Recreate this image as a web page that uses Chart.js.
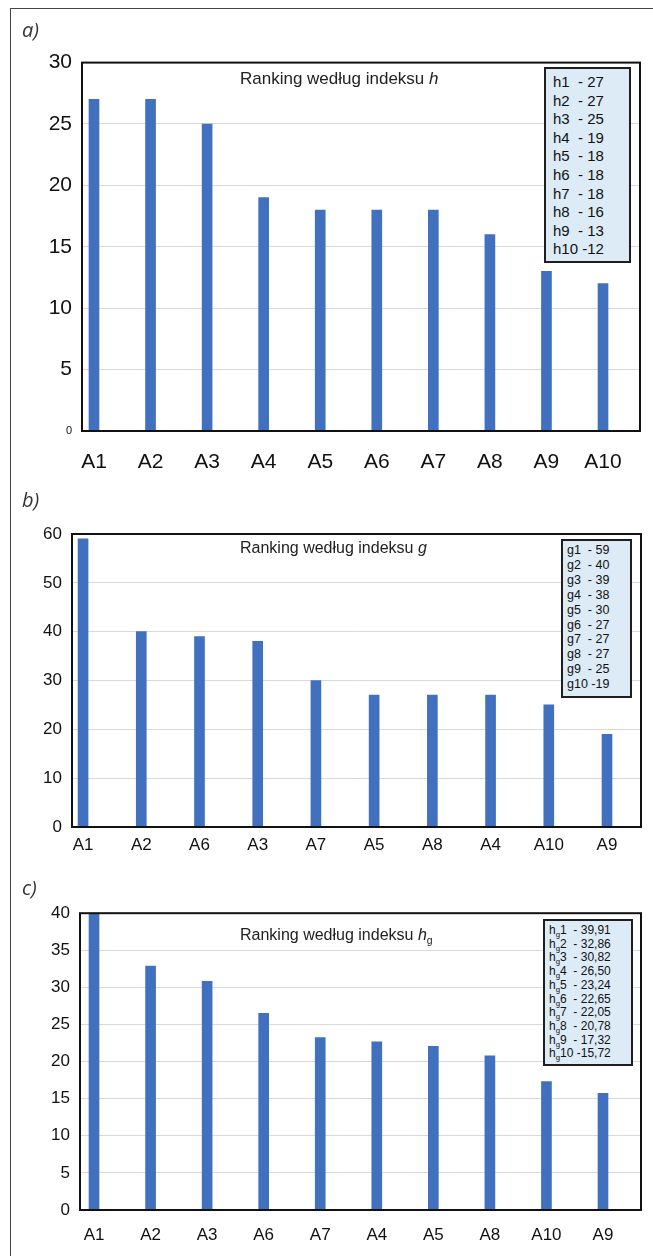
<!DOCTYPE html>
<html>
<head>
<meta charset="utf-8">
<script src="https://cdn.jsdelivr.net/npm/chart.js@4.4.0/dist/chart.umd.min.js"></script>
<style>
  body { margin: 0; background: #fff; width: 653px; height: 1256px; position: relative; overflow: hidden;
         font-family: "Liberation Sans", Arial, sans-serif; }
  .frame { position: absolute; left: 10px; top: 8px; right: -2px; bottom: -2px;
           border-left: 1px solid #444; border-top: 1px solid #444; }
  canvas { position: absolute; left: 0; }
  .tag { position: absolute; left: 22px; font: italic 20px "Open Sans", sans-serif; color: #333; line-height: 24px; }
  .title { position: absolute; left: 240px; font-size: 16px; line-height: 18px; color: #222; white-space: nowrap; }
  .key { position: absolute; background: #ddebf7; border: 2px solid #1e1e1e; box-sizing: border-box;
         color: #111; white-space: pre; }
  sub { font-size: 0.65em; vertical-align: -0.35em; line-height: 0; }
</style>
</head>
<body>
<div class="frame"></div>

<canvas id="chartH" width="653" height="440" style="top:40px;width:653px;height:440px"></canvas>
<canvas id="chartG" width="653" height="360" style="top:510px;width:653px;height:360px"></canvas>
<canvas id="chartHg" width="653" height="363" style="top:893px;width:653px;height:363px"></canvas>

<div class="tag" style="top:18px">a)</div>
<div class="tag" style="top:488px">b)</div>
<div class="tag" style="top:876px">c)</div>

<div class="title" style="top:70px;font-size:17px">Ranking według indeksu <i>h</i></div>
<div class="title" style="top:539px">Ranking według indeksu <i>g</i></div>
<div class="title" style="top:926px">Ranking według indeksu <i>h</i><sub>g</sub></div>

<div class="key" id="keyH" style="left:544px;top:67px;width:87px;height:196px;font-size:15px;line-height:18.6px;padding:4px 0 0 7px"></div>
<div class="key" id="keyG" style="left:561px;top:539px;width:71px;height:159px;font-size:12.5px;line-height:14.9px;padding:2px 0 0 4px"></div>
<div class="key" id="keyHg" style="left:543px;top:919px;width:90px;height:147px;font-size:12px;line-height:13.7px;padding:3px 0 0 4px"></div>

<script>
// ranking by h-index
const rankH = ['A1', 'A2', 'A3', 'A4', 'A5', 'A6', 'A7', 'A8', 'A9', 'A10'];
const valuesH = [27, 27, 25, 19, 18, 18, 18, 16, 13, 12];
const yTicksH = [0, 5, 10, 15, 20, 25, 30];

// ranking by g-index
const rankG = ['A1', 'A2', 'A6', 'A3', 'A7', 'A5', 'A8', 'A4', 'A10', 'A9'];
const valuesG = [59, 40, 39, 38, 30, 27, 27, 27, 25, 19];
const yTicksG = [0, 10, 20, 30, 40, 50, 60];

// ranking by hg-index
const rankHg = ['A1', 'A2', 'A3', 'A6', 'A7', 'A4', 'A5', 'A8', 'A10', 'A9'];
const valuesHg = [39.91, 32.86, 30.82, 26.50, 23.24, 22.65, 22.05, 20.78, 17.32, 15.72];
const yTicksHg = [0, 5, 10, 15, 20, 25, 30, 35, 40];

// black frame around the plot area
const boxPlugin = {
  id: 'box',
  afterDraw(chart) {
    const { ctx, chartArea: a } = chart;
    ctx.save();
    ctx.strokeStyle = '#111';
    ctx.lineWidth = 2;
    ctx.strokeRect(a.left, a.top, a.right - a.left, a.bottom - a.top);
    ctx.restore();
  }
};

function panel(id, o) {
  return new Chart(document.getElementById(id), {
    type: 'bar',
    data: {
      datasets: [{
        data: o.values.map((v, i) => ({ x: i, y: v })),
        backgroundColor: '#4170bf',
        barThickness: 10
      }]
    },
    options: {
      responsive: false,
      animation: false,
      layout: { padding: { top: o.top, right: o.right, left: 0, bottom: 0 } },
      plugins: { legend: { display: false }, tooltip: { enabled: false } },
      scales: {
        x: {
          type: 'linear', offset: false, min: o.xMin, max: o.xMax,
          afterBuildTicks: s => { s.ticks = o.cats.map((c, i) => ({ value: i })); },
          afterFit: s => { s.height = o.xh; },
          grid: { display: false, drawTicks: false },
          border: { display: false },
          ticks: {
            autoSkip: false, maxRotation: 0, padding: o.xPad, color: '#111',
            font: { size: o.xFont }, callback: v => o.cats[v]
          }
        },
        y: {
          min: 0, max: o.yTicks[o.yTicks.length - 1],
          afterBuildTicks: s => { s.ticks = o.yTicks.map(v => ({ value: v })); },
          afterFit: s => { s.width = o.left; },
          grid: { color: '#d9d9d9', drawTicks: false },
          border: { display: false },
          ticks: { padding: 10, color: '#111', font: o.yFont }
        }
      }
    },
    plugins: [boxPlugin]
  });
}

panel('chartH', {
  cats: rankH, values: valuesH, yTicks: yTicksH,
  top: 22, right: 13, left: 82, xh: 49, xMin: -0.212, xMax: 9.654,
  xPad: 19, xFont: 21,
  yFont: ctx => ({ size: ctx.tick && ctx.tick.value === 0 ? 11 : 21 })
});

panel('chartG', {
  cats: rankG, values: valuesG, yTicks: yTicksG,
  top: 24, right: 12, left: 72, xh: 43, xMin: -0.19, xMax: 9.584,
  xPad: 8, xFont: 17, yFont: { size: 17 }
});

panel('chartHg', {
  cats: rankHg, values: valuesHg, yTicks: yTicksHg,
  top: 20, right: 12, left: 80, xh: 46, xMin: -0.248, xMax: 9.672,
  xPad: 15, xFont: 17, yFont: { size: 17 }
});

// value lists in the boxes
function fill(id, prefix, values, fmt) {
  document.getElementById(id).innerHTML = values.map((v, i) => {
    const n = i + 1;
    return prefix + n + (n < 10 ? '  - ' : ' -') + fmt(v);
  }).join('\n');
}
fill('keyH', 'h', valuesH, v => String(v));
fill('keyG', 'g', valuesG, v => String(v));
fill('keyHg', 'h<sub>g</sub>', valuesHg, v => v.toFixed(2).replace('.', ','));
</script>
</body>
</html>
